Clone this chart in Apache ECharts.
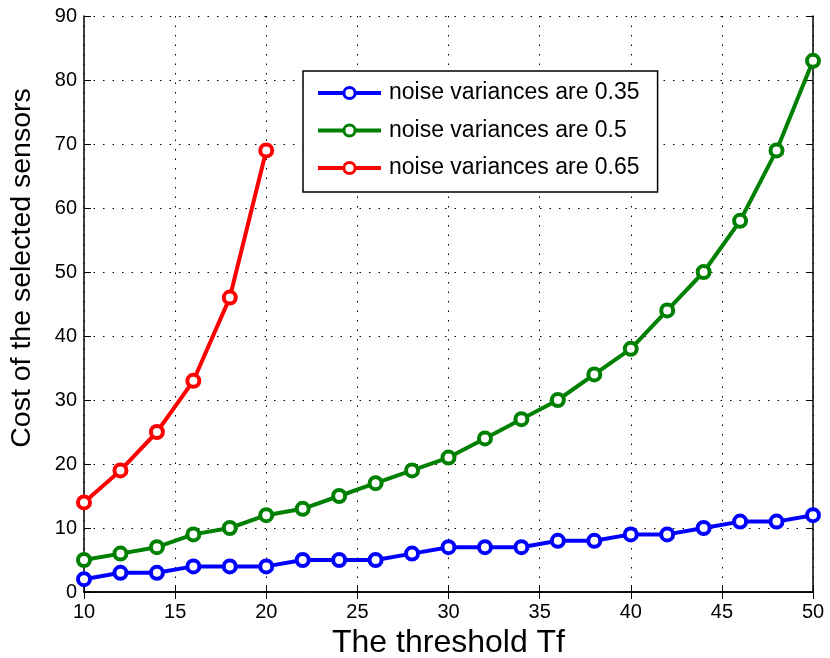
<!DOCTYPE html>
<html>
<head>
<meta charset="utf-8">
<script src="https://cdn.jsdelivr.net/npm/echarts@6/dist/echarts.min.js"></script>
<style>html,body{margin:0;padding:0;background:#fff;}#c{width:830px;height:658px;}</style>
</head>
<body>
<div id="c"></div>
<script>
const xValues = [10,12,14,16,18,20,22,24,26,28,30,32,34,36,38,40,42,44,46,48,50];
const blueValues = [2,3,3,4,4,4,5,5,5,6,7,7,7,8,8,9,9,10,11,11,12];
const greenValues = [5,6,7,9,10,12,13,15,17,19,21,24,27,30,34,38,44,50,58,69,83];
const redX = [10,12,14,16,18,20];
const redValues = [14,19,25,33,46,69];
const seriesNames = ['noise variances are 0.35','noise variances are 0.5','noise variances are 0.65'];

const font = '"Liberation Sans", Arial, Helvetica, sans-serif';
const pairs = (xs, ys) => xs.map((x, i) => [x, ys[i]]);
const mk = (name, color, data) => ({
  name, type: 'line', data, symbol: 'circle', symbolSize: 12,
  lineStyle: {color, width: 4},
  itemStyle: {color: '#fff', borderColor: color, borderWidth: 4}, z: 3
});
const dotted = {show: true, lineStyle: {color: '#000', type: [1.5, 8], width: 1}};
const chart = echarts.init(document.getElementById('c'));
chart.setOption({
  backgroundColor: '#fff',
  animation: false,
  grid: {left: 84, right: 17, top: 16, bottom: 66, containLabel: false, outerBoundsMode: 'none'},
  legend: {
    left: 303, top: 71, orient: 'vertical',
    borderColor: '#000', borderWidth: 1.5, backgroundColor: '#fff', borderRadius: 0,
    padding: [10, 18, 12, 13],
    itemWidth: 63, itemHeight: 14, itemGap: 13.5,
    lineStyle: {width: 4},
    itemStyle: {borderWidth: 3},
    textStyle: {fontFamily: font, fontSize: 23, color: '#000', lineHeight: 24, padding: [0,0,0,3]},
    data: seriesNames
  },
  xAxis: [{
    type: 'value', min: 10, max: 50, interval: 5,
    name: 'The threshold Tf', nameLocation: 'middle', nameGap: 28,
    nameTextStyle: {fontFamily: font, fontSize: 32, color: '#000'},
    axisLine: {lineStyle: {color: '#000', width: 1.5}},
    axisTick: {inside: true, length: 7, lineStyle: {color: '#000'}},
    axisLabel: {fontFamily: font, fontSize: 20, color: '#000', margin: 10},
    splitLine: dotted
  }, {
    type: 'value', min: 10, max: 50, interval: 5, position: 'top',
    axisLine: {lineStyle: {color: '#000', width: 1.5}},
    axisTick: {inside: true, length: 7, lineStyle: {color: '#000'}},
    axisLabel: {show: false}, splitLine: {show: false}
  }],
  yAxis: [{
    type: 'value', min: 0, max: 90, interval: 10,
    name: 'Cost of the selected sensors', nameLocation: 'middle', nameGap: 47,
    nameTextStyle: {fontFamily: font, fontSize: 28.5, color: '#000', padding: [0, 0, 0, 72]},
    axisLine: {show: true, lineStyle: {color: '#000', width: 1.5}},
    axisTick: {show: true, inside: true, length: 7, lineStyle: {color: '#000'}},
    axisLabel: {fontFamily: font, fontSize: 20, color: '#000', margin: 7},
    splitLine: dotted
  }, {
    type: 'value', min: 0, max: 90, interval: 10, position: 'right',
    axisLine: {show: true, lineStyle: {color: '#000', width: 1.5}},
    axisTick: {show: true, inside: true, length: 7, lineStyle: {color: '#000'}},
    axisLabel: {show: false}, splitLine: {show: false}
  }],
  series: [
    mk(seriesNames[0], '#0000ff', pairs(xValues, blueValues)),
    mk(seriesNames[1], '#008000', pairs(xValues, greenValues)),
    mk(seriesNames[2], '#ff0000', pairs(redX, redValues))
  ]
});
</script>
</body>
</html>
